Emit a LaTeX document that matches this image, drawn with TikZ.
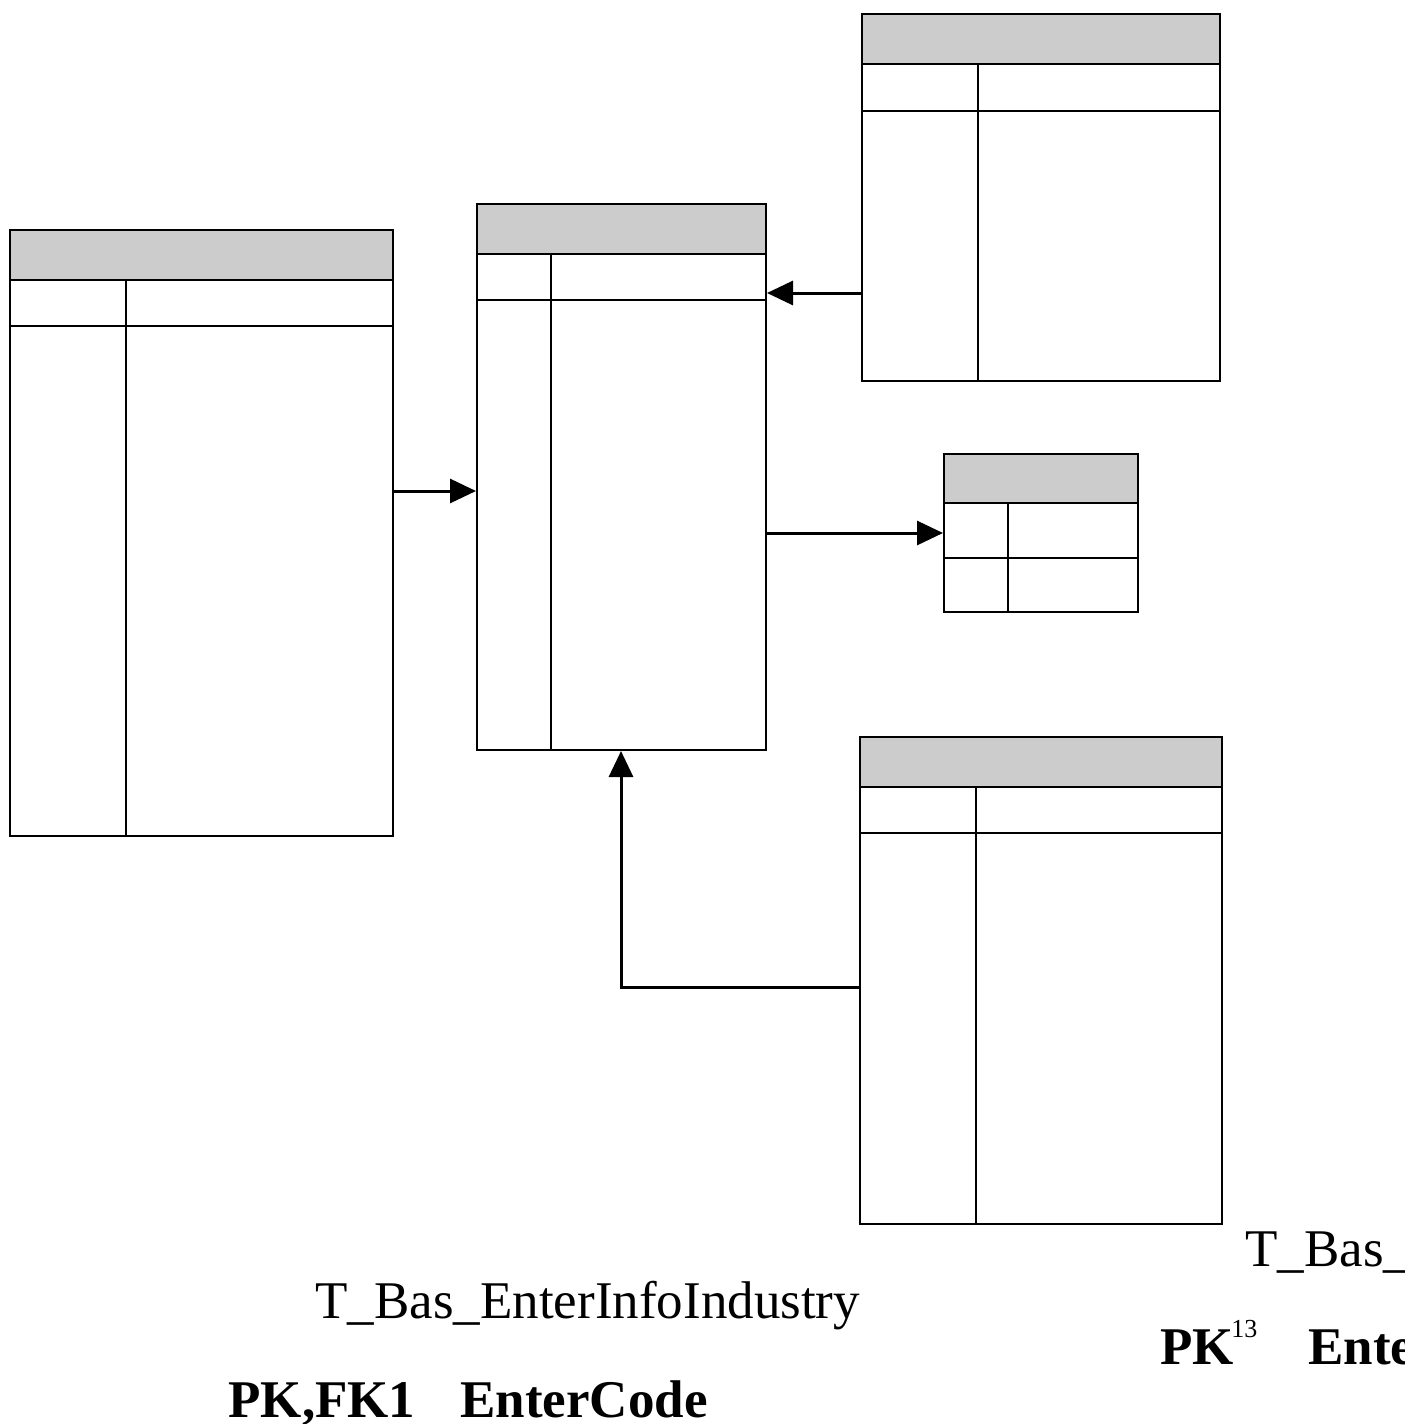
\documentclass[tikz,border=0pt]{standalone}
\usepackage{fontspec}
\setmainfont{Liberation Serif}
\usetikzlibrary{arrows.meta,fit}
\definecolor{hdrgray}{HTML}{CCCCCC}
\begin{document}
\begin{tikzpicture}[x=0.5pt,y=-0.5pt,
  tbl/.style={draw, line width=1pt, inner sep=0pt},
  gridln/.style={line width=1pt},
  conn/.style={line width=1.5pt, -{Triangle[length=13pt,width=12pt]}},
  lbl/.style={font=\fontsize{26.5pt}{30pt}\selectfont, inner sep=0pt, anchor=base west},
  lblb/.style={font=\fontsize{26.5pt}{30pt}\selectfont\bfseries, inner sep=0pt, anchor=base west}]
\useasboundingbox (0,0) rectangle (1404,1424);
\clip (0,0) rectangle (1404,1424);

% T1 left table
\fill[hdrgray] (10,230) rectangle (393,280);
\node[tbl, fit={(10,230)(393,836)}] (t1) {};
\draw[gridln] (10,280) -- (393,280) (10,326) -- (393,326) (126,280) -- (126,836);

% T2 centre table
\fill[hdrgray] (477,204) rectangle (766,254);
\node[tbl, fit={(477,204)(766,750)}] (t2) {};
\draw[gridln] (477,254) -- (766,254) (477,300) -- (766,300) (551,254) -- (551,750);

% T3 top right table
\fill[hdrgray] (862,14) rectangle (1220,64);
\node[tbl, fit={(862,14)(1220,381)}] (t3) {};
\draw[gridln] (862,64) -- (1220,64) (862,111) -- (1220,111) (978,64) -- (978,381);

% T4 small table
\fill[hdrgray] (944,454) rectangle (1138,503);
\node[tbl, fit={(944,454)(1138,612)}] (t4) {};
\draw[gridln] (944,503) -- (1138,503) (944,558) -- (1138,558) (1008,503) -- (1008,612);

% T5 bottom right table
\fill[hdrgray] (860,737) rectangle (1222,787);
\node[tbl, fit={(860,737)(1222,1224)}] (t5) {};
\draw[gridln] (860,787) -- (1222,787) (860,833) -- (1222,833) (976,787) -- (976,1224);

% connectors
\coordinate (a1) at (0,491);
\coordinate (a2) at (0,293);
\coordinate (a3) at (0,533);
\coordinate (a4) at (621,987);
\draw[conn] (t1.east |- a1) -- (t2.west |- a1);
\draw[conn] (t3.west |- a2) -- (t2.east |- a2);
\draw[conn] (t2.east |- a3) -- (t4.west |- a3);
\draw[conn] (t5.west |- a4) -- (a4) -- (a4 |- t2.south);

% texts
\node[lbl] (n1) at (315,1318) {T\_Bas\_EnterInfoIndustry};
\node[lblb] (n2) at (228,1417) {PK,FK1};
\node[lblb] (n3) at (460,1417) {EnterCode};
\node[lbl] (n4) at (1245,1266) {T\_Bas\_EnterInfo};
\node[lblb] (n5) at (1160,1364) {PK};
\node[font=\fontsize{13pt}{14pt}\selectfont, inner sep=0pt, anchor=base west] (n6) at (1231,1337) {13};
\node[lblb] (n7) at (1308,1364) {EnterCode};
\end{tikzpicture}
\end{document}
